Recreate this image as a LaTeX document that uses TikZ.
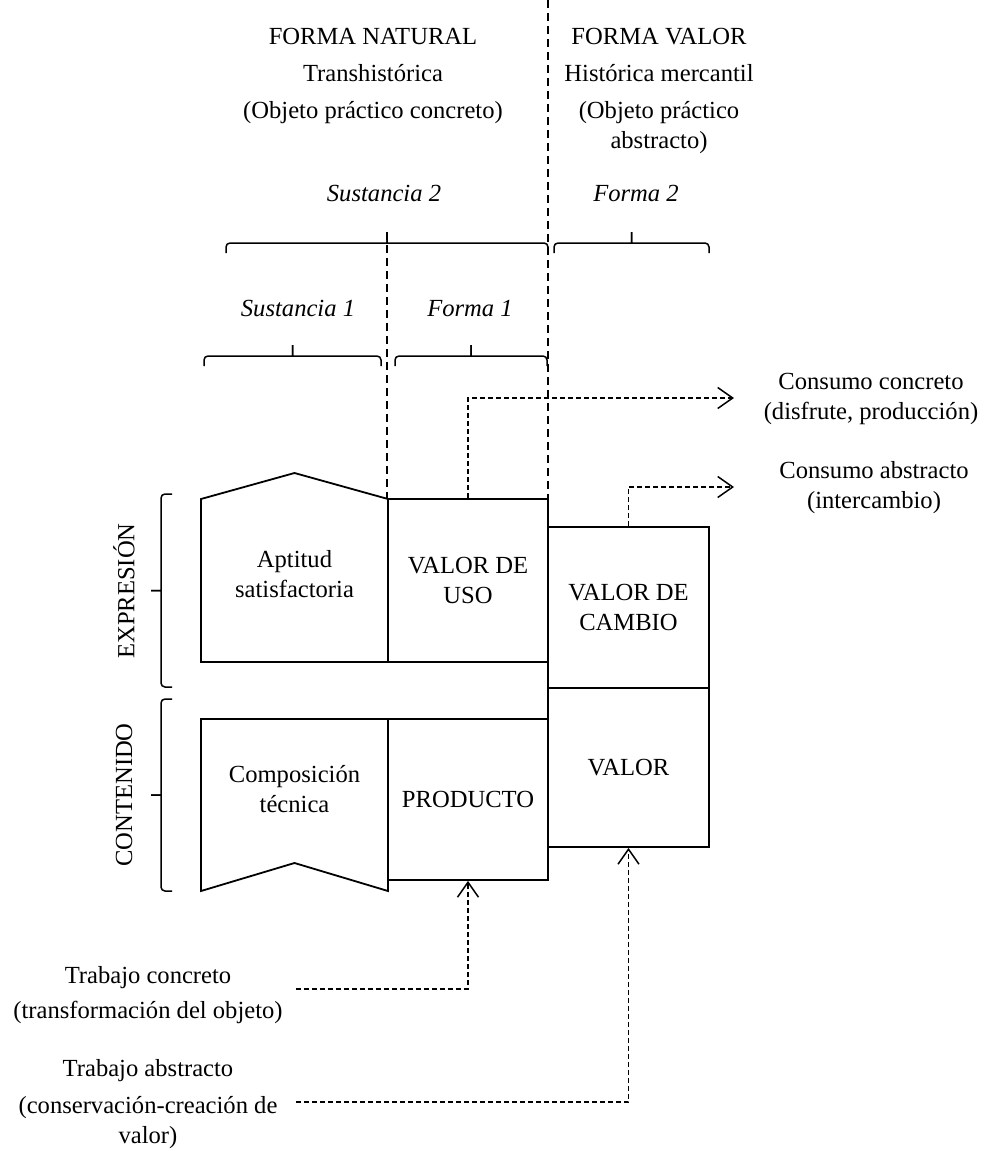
\documentclass[tikz,border=0pt]{standalone}
\usepackage{fontspec}
\setmainfont{Liberation Serif}
\usetikzlibrary{arrows.meta}

\tikzset{
    every node/.style={font=\fontsize{24.6}{30}\selectfont, align=center, inner sep=0pt},
    box/.style={draw, line width=1.8pt, minimum width=160pt, minimum height=160pt},
    outline/.style={draw, line width=1.8pt, line join=miter},
    guide/.style={line width=1.4pt, dash pattern=on 8pt off 5pt},
    flow/.style={line width=1.4pt, dash pattern=on 5pt off 3pt, -{Straight Barb[length=15pt,width=21pt,line width=1.5pt]}},
    cbrace/.style={line width=1.5pt, rounded corners=4pt}
}

% horizontal brace: x1, x2, y of the bar (tip goes up)
\newcommand{\hbrace}[3]{%
    \draw[cbrace] (#1,#3+10) -- (#1,#3) -- ({(#1+#2)/2-4},#3) .. controls ({(#1+#2)/2},#3) .. ({(#1+#2)/2},#3-11);
    \draw[cbrace] (#2,#3+10) -- (#2,#3) -- ({(#1+#2)/2+4},#3) .. controls ({(#1+#2)/2},#3) .. ({(#1+#2)/2},#3-11);
}
% vertical brace: y1, y2, x of the bar (tip goes left)
\newcommand{\vbrace}[3]{%
    \draw[cbrace] (#3+11,#1) -- (#3,#1) -- (#3,{(#1+#2)/2-4}) .. controls (#3,{(#1+#2)/2}) .. (#3-10,{(#1+#2)/2});
    \draw[cbrace] (#3+11,#2) -- (#3,#2) -- (#3,{(#1+#2)/2+4}) .. controls (#3,{(#1+#2)/2}) .. (#3-10,{(#1+#2)/2});
}

\begin{document}
\begin{tikzpicture}[x=1pt, y=-1pt]
    \useasboundingbox (0,0) rectangle (985,1151);

    % headers
    \node (natural) at (373,76) {FORMA NATURAL\\[7pt]Transhist\'orica\\[7pt](Objeto pr\'actico concreto)};
    \node (valorf) at (659,91) {FORMA VALOR\\[7pt]Hist\'orica mercantil\\[7pt](Objeto pr\'actico\\abstracto)};

    \node[anchor=base] (sust2) at (384,201) {\itshape Sustancia 2};
    \node[anchor=base] (forma2) at (636,201) {\itshape Forma 2};
    \node[anchor=base] (sust1) at (298,316) {\itshape Sustancia 1};
    \node[anchor=base] (forma1) at (470,316) {\itshape Forma 1};

    % braces
    \hbrace{226}{548}{243}
    \hbrace{554}{709}{243}
    \hbrace{204}{381}{356}
    \hbrace{395}{547}{356}
    \vbrace{494}{687}{161}
    \vbrace{699}{891}{161}

    \draw[guide] (387,232) -- (387,499);
    \draw[guide] (548,0) -- (548,499);

    \node[rotate=90] (expr) at (124,591) {EXPRESI\'ON};
    \node[rotate=90] (cont) at (124,795) {CONTENIDO};

    % left shapes
    \draw[outline] (201,662) -- (201,499) -- (294.5,473) -- (388,499) -- (388,662) -- cycle;
    \draw[outline] (201,719) -- (388,719) -- (388,891) -- (294.5,863) -- (201,891) -- cycle;
    \node (aptitud) at (294.5,574) {Aptitud\\satisfactoria};
    \node (tecnica) at (294.5,789) {Composici\'on\\t\'ecnica};

    % boxes
    \node[box, minimum height=163pt] (uso) at (468,580.5) {VALOR DE\\USO};
    \node[box, minimum width=161pt, minimum height=161pt] (cambio) at (628.5,607.5) {VALOR DE\\CAMBIO};
    \node[box, minimum width=161pt, minimum height=159pt] (valor) at (628.5,767.5) {VALOR};
    \node[box, minimum height=161pt] (producto) at (468,799.5) {PRODUCTO};

    % consumo
    \node (cconc) at (871,399) {Consumo concreto\\(disfrute, producci\'on)};
    \node (cabst) at (874,488) {Consumo abstracto\\(intercambio)};
    \coordinate (cconctip) at (734,398);
    \coordinate (cabsttip) at (734,487);
    \draw[flow] (uso.north) |- (cconctip);
    \draw[flow] (cambio.north) |- (cabsttip);

    % trabajo
    \node (tconc) at (148,995) {Trabajo concreto\\[5pt](transformaci\'on del objeto)};
    \node (tabst) at (148,1104) {Trabajo abstracto\\[7pt](conservaci\'on-creaci\'on de\\valor)};
    \coordinate (tconcstart) at (296,989);
    \coordinate (tabststart) at (296,1102);
    \draw[flow] (tconcstart) -| (producto.south);
    \draw[flow] (tabststart) -| (valor.south);
\end{tikzpicture}
\end{document}
